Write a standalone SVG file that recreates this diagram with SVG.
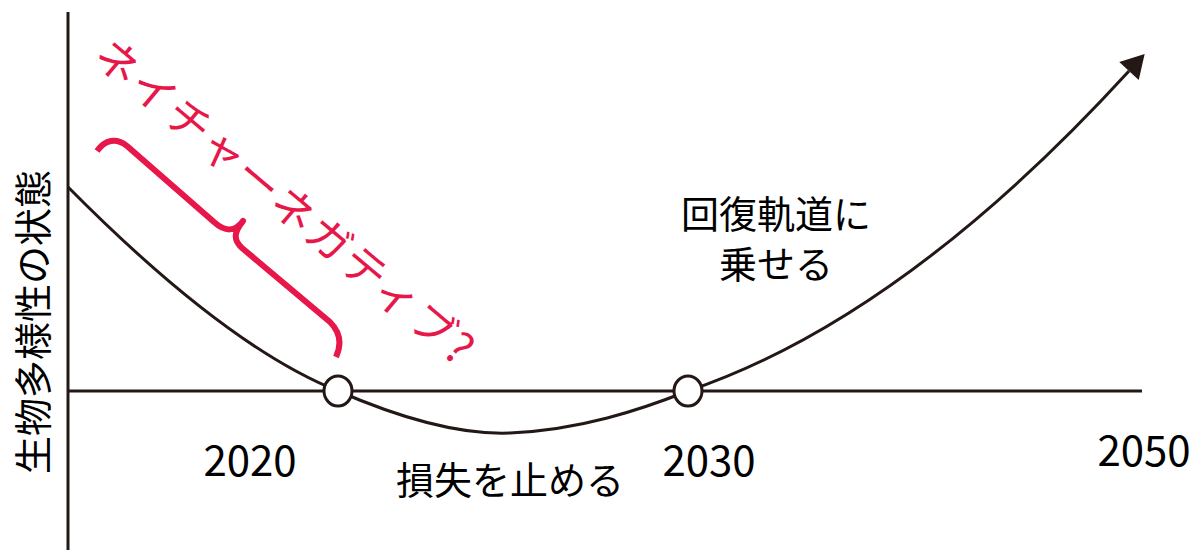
<svg xmlns="http://www.w3.org/2000/svg" width="1195" height="550" viewBox="0 0 1195 550">
<style>
.ax{stroke:#231815;stroke-width:3;fill:none}
.cv{stroke:#231815;stroke-width:3;fill:none}
.pt{fill:#fff;stroke:#231815;stroke-width:3}
.lbl{font-family:"Noto Sans CJK JP","Noto Sans",sans-serif;fill:#000;font-size:38px}
.num{font-family:"Noto Sans CJK JP","Noto Sans",sans-serif;fill:#000;font-size:42px}
.red{font-family:"Noto Sans CJK JP",sans-serif;fill:#e8174a;font-size:44px;letter-spacing:2px}
.br{stroke:#e8174a;stroke-width:6;fill:none;stroke-linecap:butt;stroke-linejoin:round}
</style>
<defs>
<marker id="arr" markerUnits="userSpaceOnUse" markerWidth="40" markerHeight="40" refX="0" refY="0" viewBox="-10 -20 50 40" orient="auto">
<path d="M29,0 L0,-16.5 L0,16.5 Z" fill="#231815"/>
</marker>
</defs>
<g id="axes">
<line class="ax" x1="68" y1="12" x2="68" y2="550"/>
<line class="ax" x1="68" y1="391" x2="1142" y2="391"/>
</g>
<g id="connectors">
<path class="cv" d="M68,187 C170,290 260,360 338,391 C400,418 460,435 510,433 C580,430 640,410 688,391 C850,336 1000,212 1129,71" marker-end="url(#arr)"/>
</g>
<g id="node-2020"><ellipse class="pt" cx="338" cy="391" rx="14" ry="15"/></g>
<g id="node-2030"><ellipse class="pt" cx="688" cy="391" rx="14" ry="15"/></g>
<g id="brace">
<path class="br" d="M97,151 C105,140 116,137 127,146 L214,222 C225,232 235,232 243,221 C234,232 233,240 242,248 L330,322 C340,332 342,344 336,357"/>
</g>
<g id="labels">
<text class="lbl" transform="translate(47,322) rotate(-90)" text-anchor="middle">生物多様性の状態</text>
<text class="num" x="250" y="476" text-anchor="middle">2020</text>
<text class="num" x="709" y="476" text-anchor="middle">2030</text>
<text class="num" x="1144" y="466" text-anchor="middle">2050</text>
<text class="lbl" x="510" y="494" text-anchor="middle">損失を止める</text>
<text class="lbl" x="776" y="228" text-anchor="middle">回復軌道に</text>
<text class="lbl" x="776" y="278" text-anchor="middle">乗せる</text>
<text class="red" transform="translate(91,60) rotate(40)">ネイチャーネガティブ?</text>
</g>
</svg>
